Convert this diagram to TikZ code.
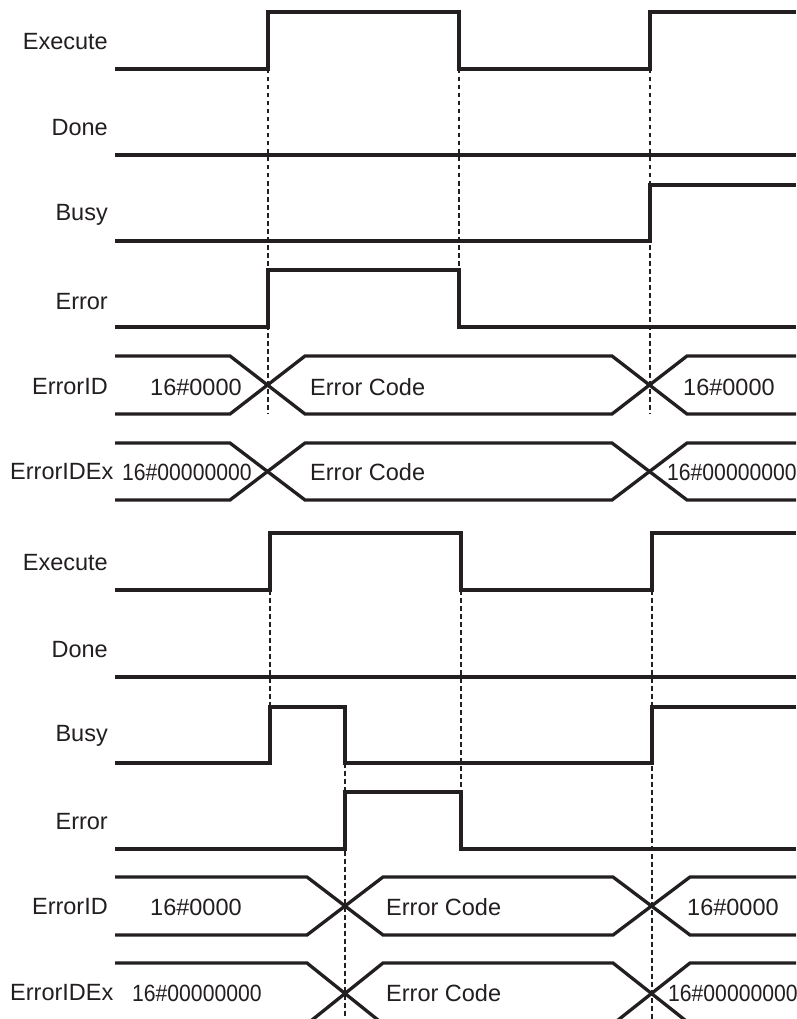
\documentclass[tikz,border=0pt]{standalone}
\usepackage{fontspec}
\usepackage{graphicx}
\setmainfont{Liberation Sans}
\definecolor{ink}{HTML}{231F20}
\begin{document}
\begin{tikzpicture}[x=1pt,y=-1pt,
  sig/.style={draw=ink,line width=3.3pt},
  vline/.style={draw=ink,line width=2.2pt,dash pattern=on 4.5pt off 3.5pt},
  lab/.style={anchor=east,inner sep=0pt,text=ink,font=\fontsize{23.5}{27}\selectfont},
  val/.style={anchor=west,inner sep=0pt,text=ink,font=\fontsize{23.5}{27}\selectfont}]
\useasboundingbox (0,0) rectangle (796,1019);
\clip (0,0) rectangle (796,1019);
\fill[white] (0,0) rectangle (796,1019);

% ===== Top diagram =====
% dashed markers
\draw[vline] (268,69) -- (268,414);
\draw[vline] (459,69) -- (459,270);
\draw[vline] (650,69) -- (650,414);
% Execute
\draw[sig] (115,69) -- (268,69) -- (268,12) -- (459,12) -- (459,69) -- (650,69) -- (650,12) -- (796,12);
% Done
\draw[sig] (115,155) -- (796,155);
% Busy
\draw[sig] (115,241) -- (650,241) -- (650,185) -- (796,185);
% Error
\draw[sig] (115,327) -- (268,327) -- (268,270) -- (459,270) -- (459,327) -- (796,327);
% ErrorID bus
\draw[sig] (115,356) -- (230,356) -- (305,414) -- (612,414) -- (687,356) -- (796,356);
\draw[sig] (115,414) -- (230,414) -- (305,356) -- (612,356) -- (687,414) -- (796,414);
% ErrorIDEx bus
\draw[sig] (115,443) -- (230,443) -- (305,500) -- (612,500) -- (687,443) -- (796,443);
\draw[sig] (115,500) -- (230,500) -- (305,443) -- (612,443) -- (687,500) -- (796,500);

\node[lab] (t1) at (108,42) {Execute};
\node[lab] (t2) at (108,128) {Done};
\node[lab] (t3) at (108,215) {Busy};
\node[lab] (t4) at (108,302) {Error};
\node[lab] (t5) at (108,387) {ErrorID};
\node[lab,anchor=west] (t6) at (10,472) {ErrorIDEx};
\node[val] (v1) at (150,387) {16\#0000};
\node[val] (v2) at (310,387) {Error Code};
\node[val] (v3) at (683,387) {16\#0000};
\node[val] (v4) at (122,472) {\scalebox{0.9}[1]{16\#00000000}};
\node[val] (v5) at (310,472) {Error Code};
\node[val] (v6) at (667,472) {\scalebox{0.9}[1]{16\#00000000}};

% ===== Bottom diagram =====
\draw[vline] (270,590) -- (270,707);
\draw[vline] (345,763) -- (345,1019);
\draw[vline] (461,590) -- (461,792);
\draw[vline] (652,590) -- (652,1019);
% Execute
\draw[sig] (115,590) -- (270,590) -- (270,533) -- (461,533) -- (461,590) -- (652,590) -- (652,533) -- (796,533);
% Done
\draw[sig] (115,677) -- (796,677);
% Busy
\draw[sig] (115,763) -- (270,763) -- (270,707) -- (345,707) -- (345,763) -- (652,763) -- (652,707) -- (796,707);
% Error
\draw[sig] (115,849) -- (345,849) -- (345,792) -- (461,792) -- (461,849) -- (796,849);
% ErrorID bus
\draw[sig] (115,877) -- (307,877) -- (383,935) -- (613,935) -- (690,877) -- (796,877);
\draw[sig] (115,935) -- (307,935) -- (383,877) -- (613,877) -- (690,935) -- (796,935);
% ErrorIDEx bus (bottom edge cut off)
\draw[sig] (115,963) -- (307,963) -- (383,1024) -- (613,1024) -- (690,963) -- (796,963);
\draw[sig] (115,1024) -- (307,1024) -- (383,963) -- (613,963) -- (690,1024) -- (796,1024);

\node[lab] (b1) at (108,563) {Execute};
\node[lab] (b2) at (108,650) {Done};
\node[lab] (b3) at (108,736) {Busy};
\node[lab] (b4) at (108,822) {Error};
\node[lab] (b5) at (108,907) {ErrorID};
\node[lab,anchor=west] (b6) at (10,993) {ErrorIDEx};
\node[val] (w1) at (150,907) {16\#0000};
\node[val] (w2) at (386,907) {Error Code};
\node[val] (w3) at (687,907) {16\#0000};
\node[val] (w4) at (132,993) {\scalebox{0.9}[1]{16\#00000000}};
\node[val] (w5) at (386,993) {Error Code};
\node[val] (w6) at (668,993) {\scalebox{0.9}[1]{16\#00000000}};
\end{tikzpicture}
\end{document}
